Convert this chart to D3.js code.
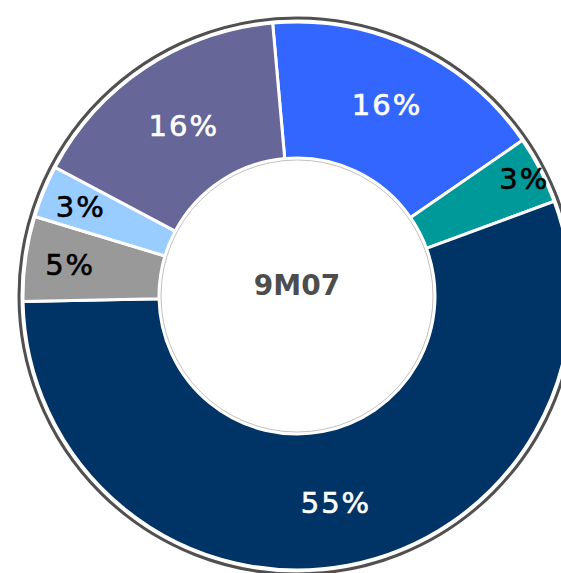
<!DOCTYPE html>
<html>
<head>
<meta charset="utf-8">
<script src="https://cdn.jsdelivr.net/npm/d3@7"></script>
<style>
  body { margin: 0; background: #fff; }
  svg { display: block; }
</style>
</head>
<body>
<div id="chart"></div>
<script>
// Slices, clockwise from the top
const segments = ["Blue", "Teal", "Navy", "Grey", "Light blue", "Purple"];
const shares = [16.8, 4.0, 55.3, 5.0, 3.1, 15.8];
const shareLabels = ["16%", "3%", "55%", "5%", "3%", "16%"];
const sliceColors = ["#3366ff", "#009999", "#003366", "#999999", "#99ccff", "#666699"];
const labelColors = ["#ffffff", "#000000", "#ffffff", "#000000", "#000000", "#ffffff"];
const centerTitle = "9M07";

const width = 561, height = 573;
const cx = 297, cy = 296;
const outerR = 274, innerR = 138;
// how far out each label sits (small slices get pushed towards the rim)
const labelRadius = [212, 256, 210, 229, 234, 205];

const svg = d3.select("#chart").append("svg")
  .attr("width", width)
  .attr("height", height);

const g = svg.append("g").attr("transform", `translate(${cx},${cy})`);

const start = -5.1 * Math.PI / 180;
const pie = d3.pie().sort(null).startAngle(start).endAngle(start + 2 * Math.PI);
const arcs = pie(shares);

const arc = d3.arc().innerRadius(innerR).outerRadius(outerR);

// dark outline round the ring
g.append("circle")
  .attr("r", outerR + 4)
  .attr("fill", "none")
  .attr("stroke", "#505050")
  .attr("stroke-width", 3);

g.selectAll(".slice")
  .data(arcs)
  .enter()
  .append("path")
  .attr("class", "slice")
  .attr("d", arc)
  .attr("fill", (d, i) => sliceColors[i])
  .attr("stroke", "#fff")
  .attr("stroke-width", 3)
  .attr("stroke-linejoin", "miter");

// faint edge of the hole
g.append("circle")
  .attr("r", innerR - 2)
  .attr("fill", "#fff")
  .attr("stroke", "#b0b0b0")
  .attr("stroke-width", 0.8);

const labelPos = (d, i) =>
  d3.arc().innerRadius(labelRadius[i]).outerRadius(labelRadius[i]).centroid(d);

g.selectAll(".label")
  .data(arcs)
  .enter()
  .append("text")
  .attr("class", "label")
  .attr("transform", (d, i) => `translate(${labelPos(d, i)})`)
  .attr("text-anchor", "middle")
  .attr("dy", "0.36em")
  .style("font-family", "'DejaVu Sans', sans-serif")
  .style("font-size", "29px")
  .style("letter-spacing", "2px")
  .style("stroke", (d, i) => labelColors[i])
  .style("stroke-width", 0.6)
  .attr("fill", (d, i) => labelColors[i])
  .text((d, i) => shareLabels[i]);

g.append("text")
  .attr("y", -11)
  .attr("text-anchor", "middle")
  .attr("dy", "0.36em")
  .style("font-family", "'DejaVu Sans', sans-serif")
  .style("font-weight", "bold")
  .style("font-size", "28px")
  .attr("fill", "#4d4d4d")
  .text(centerTitle);
</script>
</body>
</html>
